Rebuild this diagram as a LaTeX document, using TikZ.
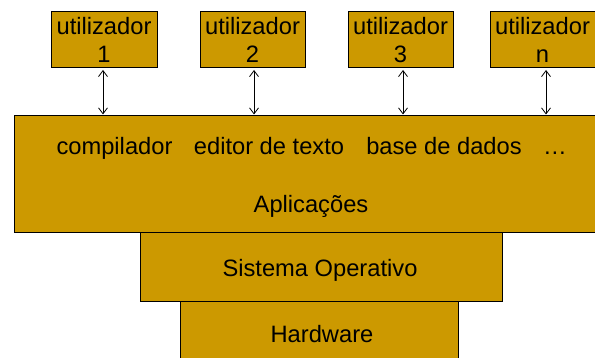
\documentclass[tikz,border=0pt]{standalone}
\usepackage{fontspec}
\setmainfont{Liberation Sans}
\usetikzlibrary{arrows.meta}
\definecolor{gold}{HTML}{CC9900}
\tikzset{
  layer/.style={draw=black, line width=1pt, fill=gold, rectangle, inner sep=0pt},
  txt/.style={anchor=base, inner sep=0pt, font=\fontsize{23.7}{28}\selectfont},
  link/.style={draw=black, line width=0.8pt, {Straight Barb[length=6pt,width=9pt]}-{Straight Barb[length=6pt,width=9pt]}, shorten <=2pt, shorten >=1pt}
}
\begin{document}
\begin{tikzpicture}[x=1pt,y=-1pt]
\useasboundingbox (0,0) rectangle (595,358);
\clip (0,0) rectangle (595,358);
% layers
\node[layer, minimum width=278pt, minimum height=70pt] (hw) at (319,337) {};
\node[layer, minimum width=362pt, minimum height=69pt] (so) at (321,267.5) {};
\node[layer, minimum width=590pt, minimum height=117pt] (app) at (309,174.5) {};
% user boxes
\node[layer, minimum width=106pt, minimum height=56pt] (u1) at (104,40) {};
\node[layer, minimum width=105pt, minimum height=56pt] (u2) at (252.5,40) {};
\node[layer, minimum width=105pt, minimum height=56pt] (u3) at (400.5,40) {};
\node[layer, minimum width=106pt, minimum height=56pt] (un) at (543,40) {};
% texts
\node[txt] (t1a) at (104,35) {utilizador};
\node[txt] (t1b) at (104,63) {1};
\node[txt] (t2a) at (252.5,35) {utilizador};
\node[txt] (t2b) at (252.5,63) {2};
\node[txt] (t3a) at (400.5,35) {utilizador};
\node[txt] (t3b) at (400.5,63) {3};
\node[txt] (tna) at (542.5,35) {utilizador};
\node[txt] (tnb) at (542.5,63) {n};
\node[txt] (c1) at (114.5,155) {compilador};
\node[txt] (c2) at (269,155) {editor de texto};
\node[txt] (c3) at (444,155) {base de dados};
\node[txt] (c4) at (555,155) {…};
\node[txt] (ap) at (311,213) {Aplicações};
\node[txt] (sot) at (320,277) {Sistema Operativo};
\node[txt] (hwt) at (322,343) {Hardware};
% connectors
\coordinate (a1) at (103,68);
\coordinate (a2) at (254,68);
\coordinate (a3) at (403,68);
\coordinate (an) at (546,68);
\draw[link] (a1) -- (a1 |- app.north);
\draw[link] (a2) -- (a2 |- app.north);
\draw[link] (a3) -- (a3 |- app.north);
\draw[link] (an) -- (an |- app.north);
\end{tikzpicture}
\end{document}
